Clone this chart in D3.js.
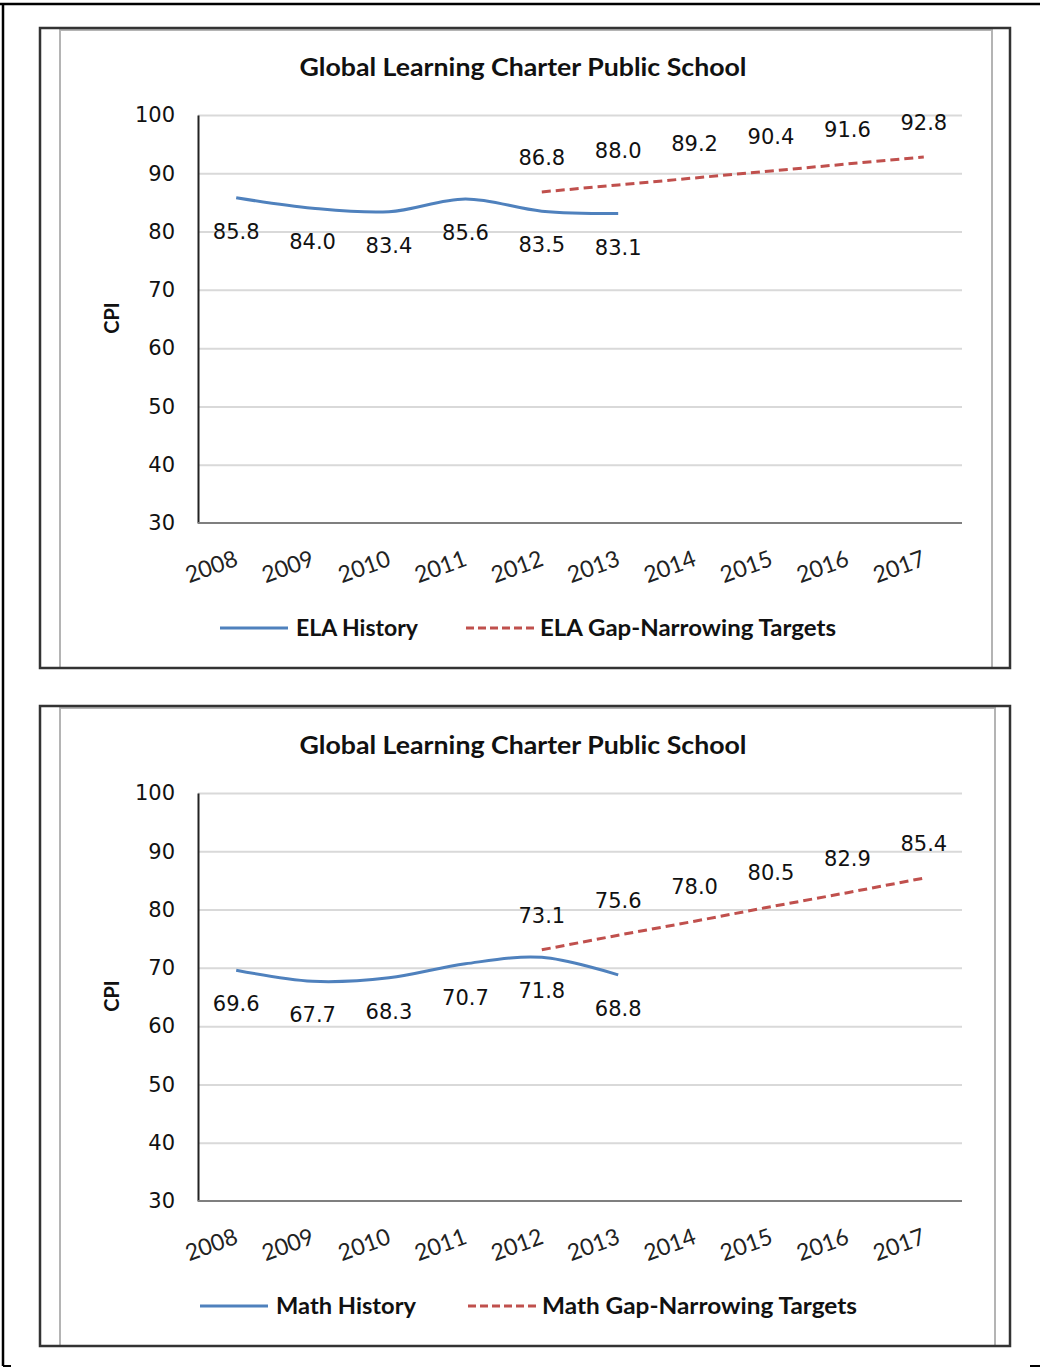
<!DOCTYPE html>
<html>
<head>
<meta charset="utf-8">
<script src="https://cdn.jsdelivr.net/npm/d3@7"></script>
<style>
  body { margin: 0; background: #fff; }
  svg { display: block; }
</style>
</head>
<body>
<script>
// chart values
var years = ['2008', '2009', '2010', '2011', '2012', '2013', '2014', '2015', '2016', '2017'];
var historyYears = years.slice(0, 6);
var targetYears = years.slice(4);
var yTicks = [30, 40, 50, 60, 70, 80, 90, 100];

var elaHistory = [85.8, 84.0, 83.4, 85.6, 83.5, 83.1];
var elaTargets = [86.8, 88.0, 89.2, 90.4, 91.6, 92.8];
var mathHistory = [69.6, 67.7, 68.3, 70.7, 71.8, 68.8];
var mathTargets = [73.1, 75.6, 78.0, 80.5, 82.9, 85.4];

var w = 1040;
var h = 1368;
var blue = '#4f81bd';
var red = '#c0504d';

var svg = d3.select('body').append('svg')
            .attr('width', w)
            .attr('height', h);

// outer page frame
svg.append('line').attr('x1', 0).attr('x2', w).attr('y1', 4).attr('y2', 4)
   .attr('stroke', '#000').attr('stroke-width', 2.5);
svg.append('line').attr('x1', 3).attr('x2', 3).attr('y1', 4).attr('y2', 1366)
   .attr('stroke', '#000').attr('stroke-width', 2.5);
svg.append('line').attr('x1', 3).attr('x2', 11).attr('y1', 1366).attr('y2', 1366)
   .attr('stroke', '#000').attr('stroke-width', 2);
svg.append('line').attr('x1', 1030).attr('x2', w).attr('y1', 1366).attr('y2', 1366)
   .attr('stroke', '#000').attr('stroke-width', 2);

function drawChart(cfg) {
  var g = svg.append('g').attr('transform', 'translate(0,' + cfg.dy + ')');

  // chart frames
  g.append('rect').attr('x', 60).attr('y', 30).attr('width', cfg.innerRight - 60).attr('height', 638)
   .attr('fill', '#fff').attr('stroke', '#b4b4b4').attr('stroke-width', 2);
  g.append('rect').attr('x', 40).attr('y', 28).attr('width', 970).attr('height', 640)
   .attr('fill', 'none').attr('stroke', '#333').attr('stroke-width', 2.5);

  var x = d3.scalePoint().domain(years).range([198, 962]).padding(0.5);
  var y = d3.scaleLinear().domain([30, 100]).range([523, 115]);

  // gridlines
  g.append('g')
   .attr('transform', 'translate(198,0)')
   .call(d3.axisLeft(y).tickValues(yTicks.slice(1)).tickSize(-764).tickFormat(''))
   .call(function(a){
     a.select('.domain').remove();
     a.selectAll('line').attr('stroke', '#d9d9d9').attr('stroke-width', 2);
   });

  // y axis
  g.append('g')
   .attr('transform', 'translate(198,0)')
   .call(d3.axisLeft(y).tickValues(yTicks).tickSize(0).tickPadding(23))
   .call(function(a){
     a.select('.domain').attr('stroke', '#222').attr('stroke-width', 2);
     a.selectAll('text').attr('font-family', 'DejaVu Sans').attr('font-size', 21).attr('fill', '#111');
   });

  // x axis line
  g.append('line').attr('x1', 198).attr('x2', 962).attr('y1', y(30)).attr('y2', y(30))
   .attr('stroke', '#7f7f7f').attr('stroke-width', 2);

  // x labels
  g.selectAll('.xlab')
   .data(years)
   .enter()
   .append('text')
   .attr('class', 'xlab')
   .attr('transform', function(d){ return 'translate(' + (x(d) + 3) + ',' + 565 + ') rotate(-20)'; })
   .attr('text-anchor', 'end')
   .attr('font-family', 'Lato')
   .attr('font-size', 23)
   .attr('fill', '#222')
   .text(function(d){ return d; });

  // CPI label
  g.append('text')
   .attr('transform', 'translate(119,318) rotate(-90)')
   .attr('text-anchor', 'middle')
   .attr('font-family', 'Lato')
   .attr('font-weight', 'bold')
   .attr('font-size', 20)
   .attr('fill', '#111')
   .text('CPI');

  // title
  g.append('text')
   .attr('x', 523)
   .attr('y', 76)
   .attr('text-anchor', 'middle')
   .attr('font-family', 'Lato')
   .attr('font-weight', 'bold')
   .attr('font-size', 24)
   .attr('textLength', 447)
   .attr('lengthAdjust', 'spacingAndGlyphs')
   .attr('fill', '#111')
   .text('Global Learning Charter  Public School');

  var hist = historyYears.map(function(d, i){ return { year: d, value: cfg.history[i] }; });
  var targ = targetYears.map(function(d, i){ return { year: d, value: cfg.targets[i] }; });

  var line = d3.line()
               .x(function(d){ return x(d.year); })
               .y(function(d){ return y(d.value); });

  g.append('path')
   .datum(hist)
   .attr('d', line.curve(d3.curveCatmullRom.alpha(0)))
   .attr('fill', 'none')
   .attr('stroke', blue)
   .attr('stroke-width', 3);

  g.append('path')
   .datum(targ)
   .attr('d', line.curve(d3.curveLinear))
   .attr('fill', 'none')
   .attr('stroke', red)
   .attr('stroke-width', 3)
   .attr('stroke-dasharray', '9,5');

  // data labels
  g.selectAll('.hlab')
   .data(hist)
   .enter()
   .append('text')
   .attr('class', 'hlab')
   .attr('x', function(d){ return x(d.year); })
   .attr('y', function(d){ return y(d.value) + 41; })
   .attr('text-anchor', 'middle')
   .attr('font-family', 'DejaVu Sans')
   .attr('font-size', 21)
   .attr('fill', '#111')
   .text(function(d){ return d.value.toFixed(1); });

  g.selectAll('.tlab')
   .data(targ)
   .enter()
   .append('text')
   .attr('class', 'tlab')
   .attr('x', function(d){ return x(d.year); })
   .attr('y', function(d){ return y(d.value) - 27; })
   .attr('text-anchor', 'middle')
   .attr('font-family', 'DejaVu Sans')
   .attr('font-size', 21)
   .attr('fill', '#111')
   .text(function(d){ return d.value.toFixed(1); });

  // legend
  var lg = g.append('g');
  lg.append('line').attr('x1', cfg.leg[0]).attr('x2', cfg.leg[0] + 68).attr('y1', 628).attr('y2', 628)
    .attr('stroke', blue).attr('stroke-width', 3);
  lg.append('text').attr('x', cfg.leg[0] + 76).attr('y', 636)
    .attr('font-family', 'Lato').attr('font-weight', 'bold').attr('font-size', 22)
    .attr('textLength', cfg.legW[0]).attr('lengthAdjust', 'spacingAndGlyphs')
    .attr('fill', '#111').text(cfg.names[0]);
  lg.append('line').attr('x1', cfg.leg[1]).attr('x2', cfg.leg[1] + 70).attr('y1', 628).attr('y2', 628)
    .attr('stroke', red).attr('stroke-width', 3).attr('stroke-dasharray', '8,4');
  lg.append('text').attr('x', cfg.leg[1] + 74).attr('y', 636)
    .attr('font-family', 'Lato').attr('font-weight', 'bold').attr('font-size', 22)
    .attr('textLength', cfg.legW[1]).attr('lengthAdjust', 'spacingAndGlyphs')
    .attr('fill', '#111').text(cfg.names[1]);
}

drawChart({
  dy: 0,
  innerRight: 992,
  history: elaHistory,
  targets: elaTargets,
  names: ['ELA History', 'ELA Gap-Narrowing Targets'],
  leg: [220, 466],
  legW: [122, 296]
});

drawChart({
  dy: 678,
  innerRight: 995,
  history: mathHistory,
  targets: mathTargets,
  names: ['Math History', 'Math Gap-Narrowing Targets'],
  leg: [200, 468],
  legW: [140, 315]
});
</script>
</body>
</html>
